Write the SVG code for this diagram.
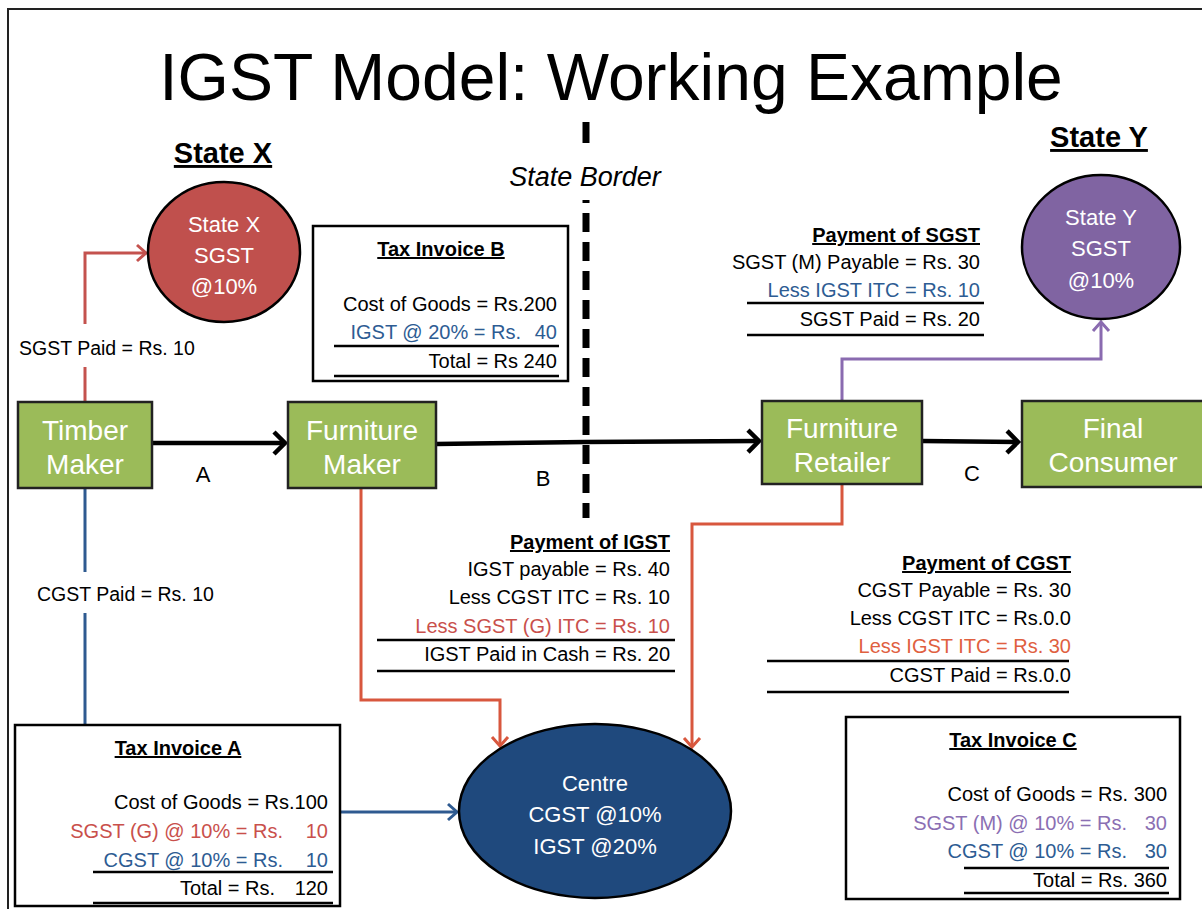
<svg xmlns="http://www.w3.org/2000/svg" width="1202" height="909" viewBox="0 0 1202 909">
<style>
text{font-family:"Liberation Sans",Arial,sans-serif;}
.title{font-size:66px;fill:#000;}
.hdr{font-size:29px;font-weight:bold;text-decoration:underline;}
.border{font-size:27px;font-style:italic;}
.box{fill:#9BBB59;stroke:#222;stroke-width:2.5;}
.blbl{font-size:28px;fill:#fff;text-anchor:middle;}
.clbl{font-size:22px;fill:#fff;text-anchor:middle;}
.inv{fill:#fff;stroke:#000;stroke-width:2.5;}
.th{font-size:20px;font-weight:bold;text-decoration:underline;}
.t{font-size:20px;text-anchor:end;}
.lab{font-size:19.5px;}
.abc{font-size:22px;text-anchor:middle;}
.rule{stroke:#000;stroke-width:2.5;}
.blue{fill:#2D5C93;}
.red{fill:#C9504B;}
.orange{fill:#E0603F;}
.purple{fill:#8B6FB3;}
.cb{fill:none;stroke:#000;stroke-width:4.5;}
.cr{fill:none;stroke:#D8573E;stroke-width:3;}
.cx{fill:none;stroke:#C4524E;stroke-width:3;}
.cu{fill:none;stroke:#2E5A90;stroke-width:3;}
.cp{fill:none;stroke:#8A6BB0;stroke-width:3;}
</style>
<defs>
<marker id="mB" markerUnits="userSpaceOnUse" markerWidth="40" markerHeight="40" viewBox="-20 -20 40 40" refX="0" refY="0" orient="auto"><path d="M-11,-11 L0,0 L-11,11" fill="none" stroke="#000" stroke-width="4.5"/></marker>
<marker id="mR" markerUnits="userSpaceOnUse" markerWidth="30" markerHeight="30" viewBox="-15 -15 30 30" refX="0" refY="0" orient="auto"><path d="M-9,-8 L0,0 L-9,8" fill="none" stroke="#D8573E" stroke-width="3"/></marker>
<marker id="mX" markerUnits="userSpaceOnUse" markerWidth="30" markerHeight="30" viewBox="-15 -15 30 30" refX="0" refY="0" orient="auto"><path d="M-9,-8 L0,0 L-9,8" fill="none" stroke="#C4524E" stroke-width="3"/></marker>
<marker id="mU" markerUnits="userSpaceOnUse" markerWidth="30" markerHeight="30" viewBox="-15 -15 30 30" refX="0" refY="0" orient="auto"><path d="M-9,-8 L0,0 L-9,8" fill="none" stroke="#2E5A90" stroke-width="3"/></marker>
<marker id="mP" markerUnits="userSpaceOnUse" markerWidth="30" markerHeight="30" viewBox="-15 -15 30 30" refX="0" refY="0" orient="auto"><path d="M-9,-8 L0,0 L-9,8" fill="none" stroke="#8A6BB0" stroke-width="3"/></marker>
</defs>
<rect x="0" y="0" width="1202" height="909" fill="#fff"/>
<path d="M8,909 V9 H1202" fill="none" stroke="#222" stroke-width="2"/>

<text class="title" x="611" y="100" text-anchor="middle">IGST Model: Working Example</text>
<text class="hdr" x="223" y="163" text-anchor="middle">State X</text>
<text class="hdr" x="1099" y="147" text-anchor="middle">State Y</text>

<g id="state-border">
<text class="border" x="585" y="186" text-anchor="middle">State Border</text>
<path d="M586,122 V143" stroke="#000" stroke-width="7"/>
<path d="M586,200 V203" stroke="#000" stroke-width="7"/>
<path d="M586,213 V518" stroke="#000" stroke-width="7" stroke-dasharray="19 10"/>
</g>

<g id="connectors">
<path class="cb" d="M152,443 H285" marker-end="url(#mB)"/>
<path class="cb" d="M436,444 L585,442 L759,441" marker-end="url(#mB)"/>
<path class="cb" d="M922,441 L1018,442" marker-end="url(#mB)"/>
<path class="cx" d="M85,402 V367 M85,324 V253 H146" marker-end="url(#mX)"/>
<path class="cu" d="M85,488 V572 M85,613 V725"/>
<path class="cu" d="M341,812 H457" marker-end="url(#mU)"/>
<path class="cr" d="M361,489 V700 H500 V746" marker-end="url(#mR)"/>
<path class="cr" d="M842,485 V524 H692 V747" marker-end="url(#mR)"/>
<path class="cp" d="M842,401 V359 H1101 V322" marker-end="url(#mP)"/>
</g>
<text class="lab" x="19" y="355">SGST Paid = Rs. 10</text>
<text class="lab" x="37" y="601">CGST Paid = Rs. 10</text>
<text class="abc" x="203" y="482">A</text>
<text class="abc" x="543" y="486">B</text>
<text class="abc" x="972" y="481">C</text>

<g id="state-x">
<ellipse cx="224" cy="252" rx="76" ry="70" fill="#C0504D" stroke="#000" stroke-width="2.5"/>
<text class="clbl" x="224" y="232">State X</text>
<text class="clbl" x="224" y="263">SGST</text>
<text class="clbl" x="224" y="294">@10%</text>
</g>

<g id="state-y">
<ellipse cx="1101" cy="247" rx="79" ry="72" fill="#8064A2" stroke="#000" stroke-width="2.5"/>
<text class="clbl" x="1101" y="225">State Y</text>
<text class="clbl" x="1101" y="256">SGST</text>
<text class="clbl" x="1101" y="288">@10%</text>
</g>

<g id="centre">
<ellipse cx="595" cy="811" rx="136" ry="87" fill="#1F497D" stroke="#000" stroke-width="2.5"/>
<text class="clbl" x="595" y="791">Centre</text>
<text class="clbl" x="595" y="822">CGST @10%</text>
<text class="clbl" x="595" y="854">IGST @20%</text>
</g>

<g id="timber-maker">
<rect class="box" x="18" y="402" width="134" height="86"/>
<text class="blbl" x="85" y="439.5">Timber</text>
<text class="blbl" x="85" y="473.5">Maker</text>
</g>

<g id="furniture-maker">
<rect class="box" x="288" y="402" width="148" height="86"/>
<text class="blbl" x="362" y="439.5">Furniture</text>
<text class="blbl" x="362" y="473.5">Maker</text>
</g>

<g id="furniture-retailer">
<rect class="box" x="762" y="401" width="160" height="83"/>
<text class="blbl" x="842" y="438">Furniture</text>
<text class="blbl" x="842" y="472">Retailer</text>
</g>

<g id="final-consumer">
<rect class="box" x="1022" y="401" width="184" height="86"/>
<text class="blbl" x="1113" y="438">Final</text>
<text class="blbl" x="1113" y="472">Consumer</text>
</g>

<g id="tax-invoice-b">
<rect class="inv" x="313" y="226" width="255" height="155"/>
<text class="th" x="441" y="256" text-anchor="middle">Tax Invoice B</text>
<text class="t" x="557" y="311">Cost of Goods = Rs.200</text>
<text class="t blue" x="521" y="339">IGST @ 20% = Rs.</text>
<text class="t blue" x="557" y="339">40</text>
<line class="rule" x1="334" y1="346" x2="559" y2="346"/>
<text class="t" x="557" y="368">Total = Rs 240</text>
<line class="rule" x1="334" y1="376" x2="559" y2="376"/>
</g>

<g id="payment-sgst">
<text class="th" x="980" y="242" text-anchor="end">Payment of SGST</text>
<text class="t" x="980" y="269">SGST (M) Payable = Rs. 30</text>
<text class="t blue" x="980" y="297">Less IGST ITC = Rs. 10</text>
<line class="rule" x1="747" y1="303" x2="984" y2="303"/>
<text class="t" x="980" y="326">SGST Paid = Rs. 20</text>
<line class="rule" x1="747" y1="335" x2="984" y2="335"/>
</g>

<g id="payment-igst">
<text class="th" x="670" y="549" text-anchor="end">Payment of IGST</text>
<text class="t" x="670" y="576">IGST payable = Rs. 40</text>
<text class="t" x="670" y="604">Less CGST ITC = Rs. 10</text>
<text class="t red" x="670" y="633">Less SGST (G) ITC = Rs. 10</text>
<line class="rule" x1="377" y1="640" x2="675" y2="640"/>
<text class="t" x="670" y="661">IGST Paid in Cash = Rs. 20</text>
<line class="rule" x1="377" y1="671" x2="675" y2="671"/>
</g>

<g id="payment-cgst">
<text class="th" x="1071" y="570" text-anchor="end">Payment of CGST</text>
<text class="t" x="1071" y="597">CGST Payable = Rs. 30</text>
<text class="t" x="1071" y="625">Less CGST ITC = Rs.0.0</text>
<text class="t orange" x="1071" y="653">Less IGST ITC = Rs. 30</text>
<line class="rule" x1="767" y1="661" x2="1069" y2="661"/>
<text class="t" x="1071" y="682">CGST Paid = Rs.0.0</text>
<line class="rule" x1="767" y1="692" x2="1069" y2="692"/>
</g>

<g id="tax-invoice-a">
<rect class="inv" x="15" y="725" width="325" height="181"/>
<text class="th" x="178" y="755" text-anchor="middle">Tax Invoice A</text>
<text class="t" x="328" y="809">Cost of Goods = Rs.100</text>
<text class="t red" x="283" y="838">SGST (G) @ 10% = Rs.</text>
<text class="t red" x="328" y="838">10</text>
<text class="t blue" x="283" y="867">CGST @ 10% = Rs.</text>
<text class="t blue" x="328" y="867">10</text>
<line class="rule" x1="93" y1="872" x2="333" y2="872"/>
<text class="t" x="275" y="895">Total = Rs.</text>
<text class="t" x="328" y="895">120</text>
<line class="rule" x1="93" y1="903" x2="333" y2="903"/>
</g>

<g id="tax-invoice-c">
<rect class="inv" x="846" y="717" width="334" height="182"/>
<text class="th" x="1013" y="747" text-anchor="middle">Tax Invoice C</text>
<text class="t" x="1167" y="801">Cost of Goods = Rs. 300</text>
<text class="t purple" x="1127" y="830">SGST (M) @ 10% = Rs.</text>
<text class="t purple" x="1167" y="830">30</text>
<text class="t blue" x="1127" y="858">CGST @ 10% = Rs.</text>
<text class="t blue" x="1167" y="858">30</text>
<line class="rule" x1="964" y1="868" x2="1169" y2="868"/>
<text class="t" x="1167" y="887">Total = Rs. 360</text>
<line class="rule" x1="964" y1="893" x2="1169" y2="893"/>
</g>
</svg>
